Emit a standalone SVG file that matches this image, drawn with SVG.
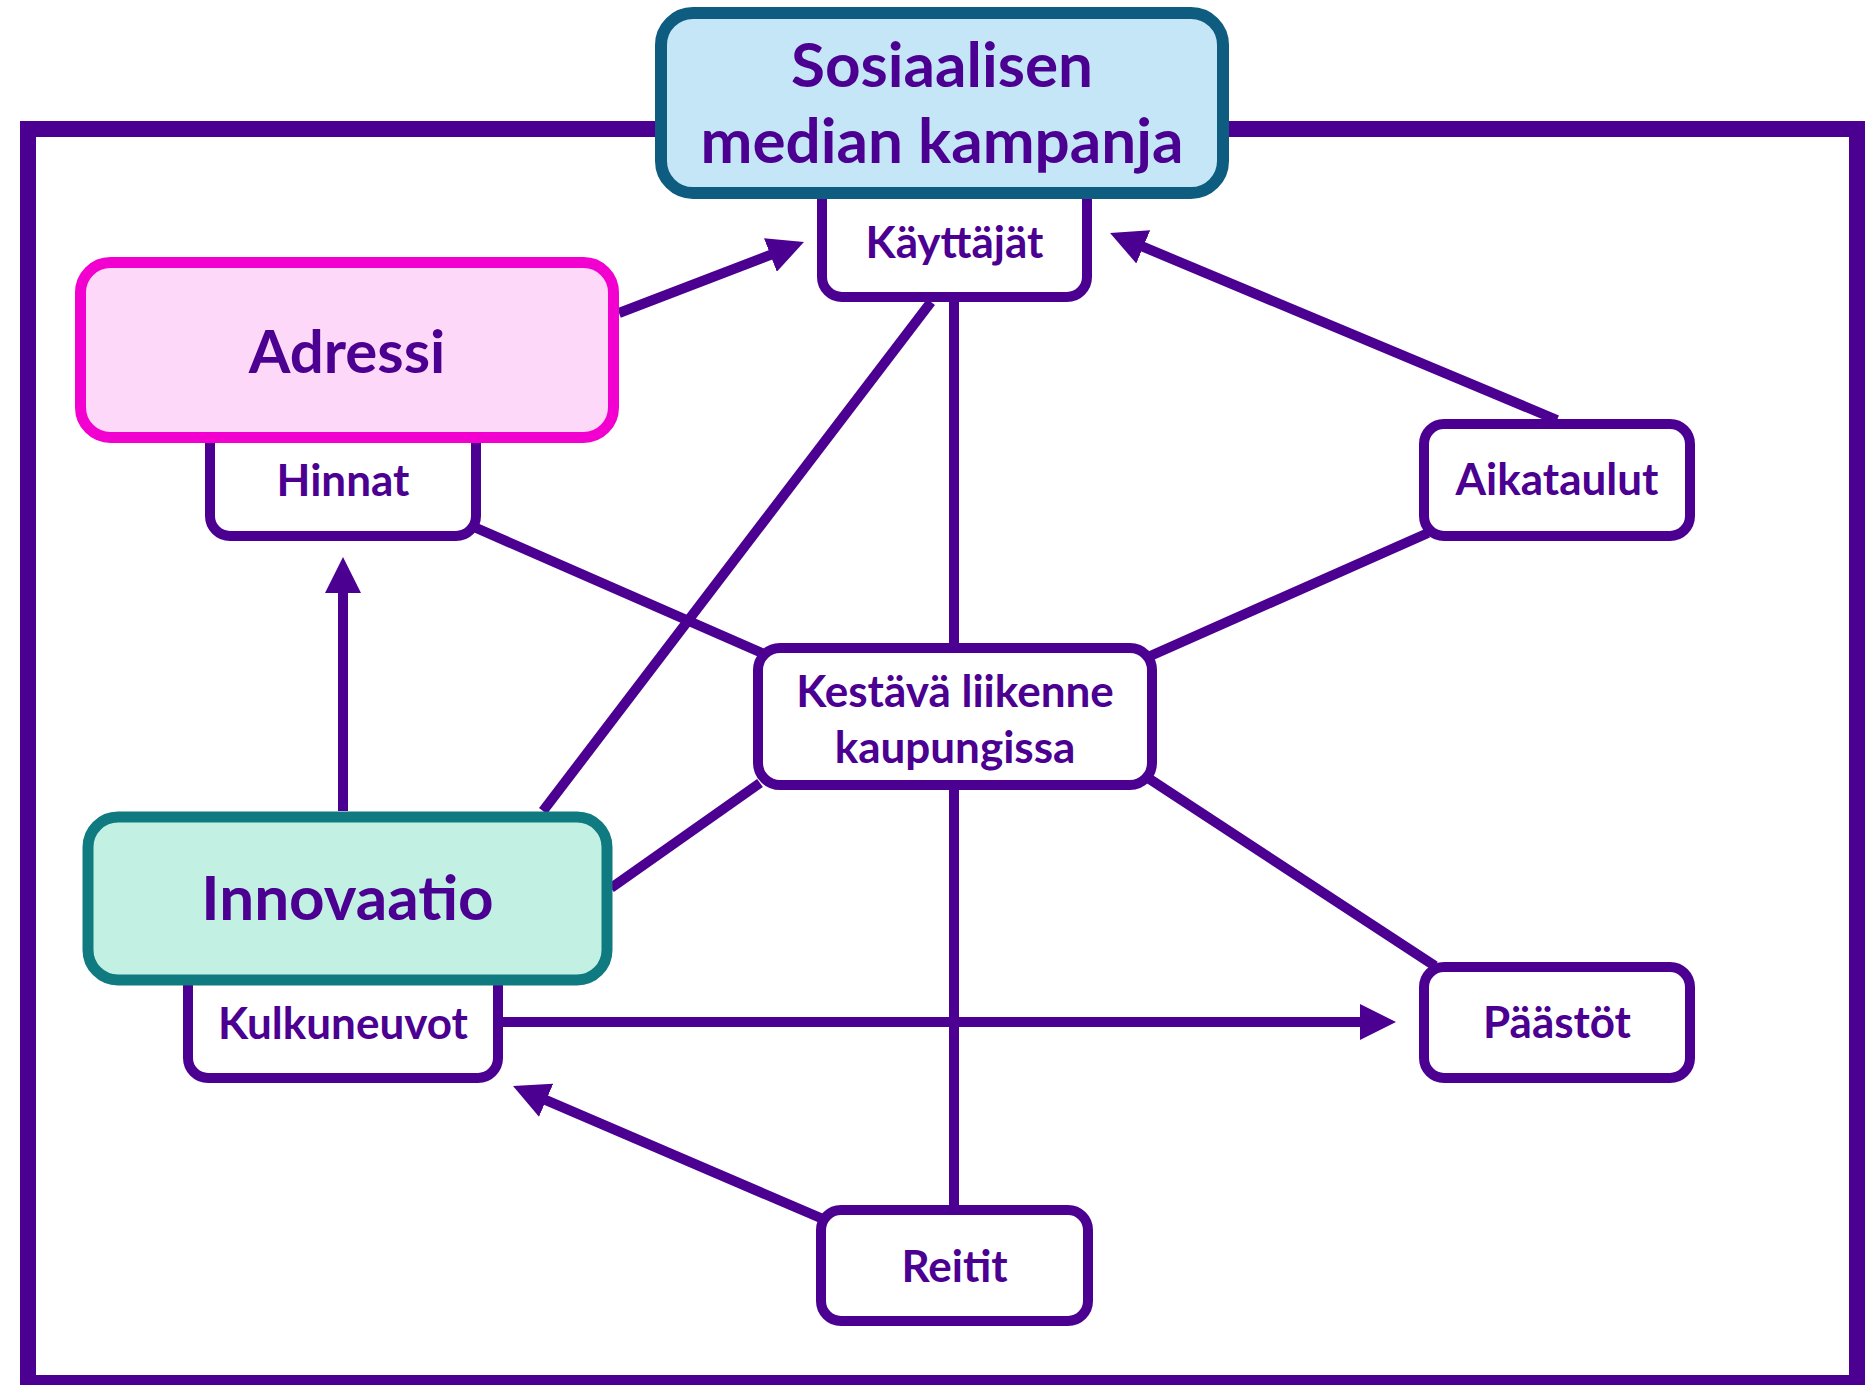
<svg xmlns="http://www.w3.org/2000/svg" width="1871" height="1385" viewBox="0 0 1871 1385">
<style>
  .frame{fill:none;stroke:#4B0091;stroke-width:16}
  .conn{fill:none;stroke:#4B0091;stroke-width:10}
  .small{fill:#FFFFFF;stroke:#4B0091;stroke-width:10}
  .t{font-family:Lato,"Open Sans",sans-serif;font-weight:700;fill:#4B0091;text-anchor:middle}
  .ts{font-size:44px}
  .tb{font-size:62px}
</style>
<defs>
  <marker id="ah" viewBox="0 0 36 36" refX="16" refY="18" markerWidth="36" markerHeight="36" markerUnits="userSpaceOnUse" orient="auto">
    <path d="M0,0 L36,18 L0,36 z" fill="#4B0091"/>
  </marker>
</defs>
<rect class="frame" x="28" y="129" width="1829" height="1254"/>
<g id="connectors">
  <line class="conn" x1="619" y1="313" x2="785.3" y2="249.2" marker-end="url(#ah)"/>
  <line class="conn" x1="1557" y1="420" x2="1128.5" y2="240.7" marker-end="url(#ah)"/>
  <line class="conn" x1="931" y1="302" x2="543" y2="811"/>
  <line class="conn" x1="954" y1="300" x2="954" y2="648"/>
  <line class="conn" x1="474" y1="527" x2="762" y2="653"/>
  <line class="conn" x1="1428" y1="533" x2="1148" y2="657"/>
  <line class="conn" x1="1148" y1="778" x2="1435" y2="966"/>
  <line class="conn" x1="760" y1="783" x2="611" y2="888"/>
  <line class="conn" x1="343" y1="811" x2="343" y2="577" marker-end="url(#ah)"/>
  <line class="conn" x1="503" y1="1022" x2="1376" y2="1022" marker-end="url(#ah)"/>
  <line class="conn" x1="823" y1="1219" x2="531.4" y2="1093.9" marker-end="url(#ah)"/>
  <line class="conn" x1="954" y1="785" x2="954" y2="1210"/>
</g>
<g id="kayttajat">
  <rect class="small" x="822" y="180" width="265" height="117" rx="20"/>
  <text class="t ts" x="954.5" y="258">Käyttäjät</text>
</g>
<g id="sosiaalisen">
  <rect x="661" y="13" width="562" height="180" rx="32" fill="#C5E6F7" stroke="#0E5C80" stroke-width="12"/>
  <text class="t tb" x="942" y="87">Sosiaalisen</text>
  <text class="t tb" x="942" y="163">median kampanja</text>
</g>
<g id="hinnat">
  <rect class="small" x="210" y="420" width="266" height="116" rx="20"/>
  <text class="t ts" x="343" y="496">Hinnat</text>
</g>
<g id="adressi">
  <rect x="80.5" y="262.5" width="533" height="175" rx="30" fill="#FDD8F8" stroke="#F200CF" stroke-width="11"/>
  <text class="t tb" x="347" y="373" style="font-size:60px">Adressi</text>
</g>
<g id="kulkuneuvot">
  <rect class="small" x="188" y="960" width="310" height="118" rx="20"/>
  <text class="t ts" x="343" y="1039">Kulkuneuvot</text>
</g>
<g id="innovaatio">
  <rect x="88" y="817" width="519" height="163" rx="30" fill="#C2F0E3" stroke="#0F7A80" stroke-width="11"/>
  <text class="t tb" x="347.5" y="920">Innovaatio</text>
</g>
<g id="kestava">
  <rect class="small" x="758" y="648" width="394" height="137" rx="22"/>
  <text class="t ts" x="955" y="707">Kestävä liikenne</text>
  <text class="t ts" x="955" y="763">kaupungissa</text>
</g>
<g id="aikataulut">
  <rect class="small" x="1424" y="424" width="266" height="112" rx="20"/>
  <text class="t ts" x="1557" y="495">Aikataulut</text>
</g>
<g id="paastot">
  <rect class="small" x="1424" y="967" width="266" height="111" rx="20"/>
  <text class="t ts" x="1557" y="1038">Päästöt</text>
</g>
<g id="reitit">
  <rect class="small" x="821" y="1210" width="267" height="111" rx="20"/>
  <text class="t ts" x="954.5" y="1282">Reitit</text>
</g>
</svg>
